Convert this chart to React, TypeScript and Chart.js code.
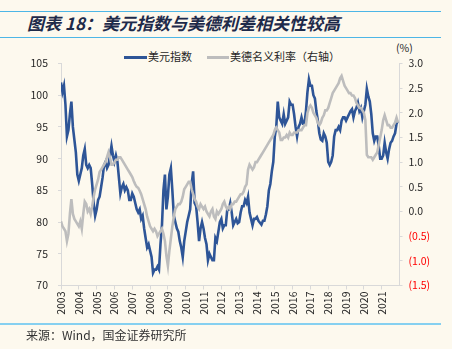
import React, { useEffect, useRef } from "react";
import { Chart, registerables } from "chart.js";

Chart.register(...registerables);

const startYear = 2003;
const yearTicks = [2003, 2004, 2005, 2006, 2007, 2008, 2009, 2010, 2011, 2012, 2013, 2014, 2015, 2016, 2017, 2018, 2019, 2020, 2021];

// 美元指数 (monthly, Jan 2003 - Dec 2021)
const dxyMonthly = [
  102.0, 100.5, 101.5, 98.5, 93.5, 94.5, 97.0, 99.0, 95.0, 93.0, 91.0, 87.5,
  86.5, 87.5, 88.5, 90.5, 91.5, 89.0, 88.5, 89.0, 88.5, 86.0, 83.0, 81.0,
  82.0, 83.5, 84.0, 85.5, 87.0, 89.0, 89.5, 88.5, 89.0, 90.5, 92.0, 90.5,
  89.5, 90.5, 89.5, 87.0, 84.5, 85.5, 86.0, 85.0, 85.5, 85.0, 83.5, 83.5,
  84.5, 84.0, 83.0, 82.0, 81.5, 82.0, 80.5, 81.0, 79.0, 77.5, 76.0, 76.5,
  75.5, 74.5, 72.0, 72.5, 72.5, 73.0, 72.5, 76.5, 79.5, 85.0, 87.5, 82.0,
  84.0, 87.5, 88.5, 85.0, 81.0, 80.0, 79.0, 78.5, 77.0, 76.0, 74.5, 77.0,
  78.5, 80.0, 81.0, 82.0, 86.0, 88.0, 83.0, 82.5, 80.0, 77.0, 79.0, 80.0,
  79.0, 77.5, 76.5, 74.0, 75.0, 74.5, 74.0, 74.0, 77.5, 77.0, 78.5, 80.0,
  80.5, 79.0, 79.5, 79.5, 82.0, 82.0, 83.0, 81.5, 79.5, 80.0, 80.5, 79.8,
  80.0, 81.5, 82.5, 82.5, 83.5, 83.0, 84.0, 81.5, 80.5, 79.5, 80.5, 80.5,
  80.8, 80.2, 79.9, 79.6, 80.2, 80.2, 81.2, 82.5, 85.0, 86.0, 88.0, 89.5,
  93.5, 95.0, 99.0, 96.5, 96.0, 95.5, 97.0, 95.5, 96.0, 96.5, 99.0, 98.5,
  98.5, 97.0, 95.0, 93.5, 95.0, 95.5, 96.5, 95.5, 95.5, 97.5, 100.5, 102.5,
  101.5, 101.5, 100.0, 99.5, 97.5, 96.0, 94.0, 93.0, 92.8, 94.0, 93.5, 92.5,
  89.5, 89.0, 89.5, 90.5, 93.5, 94.5, 94.5, 95.0, 94.5, 96.0, 96.5, 96.5,
  96.0, 96.5, 97.0, 97.5, 97.8, 96.5, 97.5, 98.0, 98.8, 97.5, 98.0, 96.5,
  97.5, 98.5, 101.0, 99.8, 99.0, 97.0, 94.0, 92.8, 93.5, 93.5, 92.0, 90.0,
  90.0, 90.5, 92.5, 91.0, 90.0, 91.5, 92.5, 92.8, 93.5, 94.0, 95.5, 96.0,
];

// 美德名义利率 (右轴, %, monthly, Jan 2003 - Dec 2021)
const spreadMonthly = [
  -0.2, -0.3, -0.35, -0.4, -0.6, -0.45, -0.05, 0.25, -0.05, -0.15, -0.2, -0.25,
  -0.3, -0.2, -0.35, -0.05, 0.2, 0.15, 0.0, 0.05, -0.05, 0.1, 0.3, 0.45,
  0.55, 0.65, 0.8, 0.85, 0.9, 0.95, 1.0, 1.1, 1.2, 1.1, 0.95, 0.95,
  1.0, 1.05, 1.05, 1.1, 1.1, 1.05, 1.0, 0.95, 0.9, 0.85, 0.8, 0.75,
  0.7, 0.62, 0.55, 0.5, 0.48, 0.42, 0.35, 0.25, 0.15, 0.05, -0.1, -0.2,
  -0.3, -0.35, -0.4, -0.35, -0.4, -0.5, -0.45, -0.4, -0.35, -0.45, -0.6, -0.9,
  -1.1, -0.8, -0.55, -0.3, -0.1, 0.05, 0.1, 0.15, 0.15, 0.2, 0.3, 0.45,
  0.5, 0.55, 0.6, 0.6, 0.45, 0.35, 0.25, 0.2, 0.1, 0.05, 0.15, 0.1,
  0.05, 0.1, 0.0, -0.05, -0.1, 0.0, 0.05, -0.1, -0.15, 0.0, -0.05, 0.0,
  0.05, 0.15, 0.2, 0.1, 0.05, 0.1, 0.05, 0.15, 0.15, 0.2, 0.2, 0.25,
  0.3, 0.35, 0.35, 0.4, 0.5, 0.55, 0.85, 0.95, 0.9, 0.85, 0.9, 1.0,
  1.0, 1.05, 1.1, 1.15, 1.2, 1.25, 1.3, 1.35, 1.4, 1.45, 1.5, 1.55,
  1.65, 1.7, 1.65, 1.6, 1.45, 1.45, 1.5, 1.5, 1.55, 1.5, 1.6, 1.55,
  1.55, 1.6, 1.6, 1.6, 1.65, 1.65, 1.65, 1.7, 1.75, 1.75, 2.0, 2.1,
  2.15, 2.1, 2.0, 1.95, 1.9, 1.8, 1.75, 1.8, 1.9, 1.95, 2.05, 2.05,
  2.1, 2.2, 2.3, 2.4, 2.45, 2.5, 2.55, 2.6, 2.7, 2.75, 2.65, 2.55,
  2.5, 2.45, 2.4, 2.4, 2.35, 2.35, 2.3, 2.2, 2.15, 2.1, 2.1, 2.05,
  2.0, 1.85, 1.15, 1.1, 1.1, 1.1, 1.05, 1.1, 1.15, 1.2, 1.35, 1.5,
  1.65, 1.85, 1.95, 1.85, 1.75, 1.75, 1.7, 1.7, 1.75, 1.8, 1.9, 1.8,
];

const seriesNames = ["美元指数", "美德名义利率（右轴）"];
const titleText = "图表 18：美元指数与美德利差相关性较高";
const sourceText = "来源：Wind，国金证券研究所";

const BG = "#FDF9EE";
const BLUE = "#2E5597";
const GRAY = "#BDBDBD";
const AXIS = "#D9D9D9";
const FONT = "'Noto Sans CJK SC', 'Noto Sans', sans-serif";

export default function App() {
  const ref = useRef<HTMLCanvasElement | null>(null);

  useEffect(() => {
    if (!ref.current) return;
    const toPts = (arr: number[]) => arr.map((v, i) => ({ x: startYear + i / 12, y: v }));
    const tickFont = { family: FONT, size: 10.5 };
    const chart = new Chart(ref.current, {
      type: "line",
      data: {
        datasets: [
          {
            label: seriesNames[1],
            data: toPts(spreadMonthly),
            yAxisID: "y1",
            borderColor: GRAY,
            borderWidth: 2.6,
            pointRadius: 0,
            tension: 0,
            order: 0,
          },
          {
            label: seriesNames[0],
            data: toPts(dxyMonthly),
            yAxisID: "y",
            borderColor: BLUE,
            borderWidth: 2.6,
            pointRadius: 0,
            tension: 0,
            order: 1,
          },
        ],
      },
      options: {
        animation: false,
        responsive: false,
        maintainAspectRatio: false,
        layout: { padding: { top: 63.5, left: 0, right: 0, bottom: 0 } },
        plugins: { legend: { display: false }, tooltip: { enabled: false } },
        scales: {
          x: {
            type: "linear",
            min: 2003,
            max: 2022,
            afterBuildTicks: (s: any) => {
              s.ticks = yearTicks.map((v) => ({ value: v }));
            },
            afterFit: (s: any) => {
              s.height = 349 - 285.5;
            },
            border: { color: AXIS, width: 1 },
            grid: { drawOnChartArea: false, drawTicks: true, tickLength: 4, color: AXIS },
            ticks: {
              autoSkip: false,
              minRotation: 90,
              maxRotation: 90,
              padding: 2,
              color: "#262626",
              font: tickFont,
              callback: (v: any) => String(v),
            },
          },
          y: {
            position: "left",
            min: 70,
            max: 105,
            afterFit: (s: any) => {
              s.width = 61;
            },
            border: { color: AXIS, width: 1 },
            grid: { drawOnChartArea: false, drawTicks: true, tickLength: 3, color: AXIS },
            ticks: { stepSize: 5, padding: 10, color: "#262626", font: tickFont },
          },
          y1: {
            position: "right",
            min: -1.5,
            max: 3,
            afterFit: (s: any) => {
              s.width = 452 - 399.5;
            },
            border: { color: AXIS, width: 1 },
            grid: { drawOnChartArea: false, drawTicks: true, tickLength: 3, color: AXIS },
            ticks: {
              stepSize: 0.5,
              padding: 6,
              font: tickFont,
              color: (ctx: any) => (ctx.tick && ctx.tick.value < 0 ? "#FF0000" : "#262626"),
              callback: (v: any) => (v < 0 ? `(${Math.abs(v).toFixed(1)})` : Number(v).toFixed(1)),
            },
          },
        },
      },
    } as any);
    return () => chart.destroy();
  }, []);

  const abs = (o: React.CSSProperties): React.CSSProperties => ({ position: "absolute", ...o });

  return (
    <div style={abs({ left: 0, top: 0, width: 452, height: 349, background: BG, overflow: "hidden", fontFamily: FONT })}>
      <div style={abs({ left: 0, top: 10.5, width: 441, height: 1, background: "#4DB6E6" })} />
      <div
        style={abs({
          left: 27,
          top: 13,
          fontSize: 17,
          lineHeight: "20px",
          fontWeight: "bold",
          fontStyle: "italic",
          color: "#1E2A4A",
          whiteSpace: "nowrap",
        })}
      >
        {titleText}
      </div>
      <div style={abs({ left: 0, top: 36.5, width: 441, height: 1, background: "#4DB6E6" })} />

      <div style={abs({ left: 124, top: 56, width: 23, height: 2.5, background: BLUE })} />
      <div style={abs({ left: 148, top: 49, fontSize: 11, lineHeight: "14px", color: "#262626", whiteSpace: "nowrap" })}>
        {seriesNames[0]}
      </div>
      <div style={abs({ left: 207, top: 56, width: 22, height: 2.5, background: GRAY })} />
      <div style={abs({ left: 230, top: 49, fontSize: 11, lineHeight: "14px", color: "#262626", whiteSpace: "nowrap" })}>
        {seriesNames[1]}
      </div>
      <div style={abs({ left: 396, top: 41, fontSize: 10.5, lineHeight: "14px", color: "#262626" })}>(%)</div>

      <canvas ref={ref} width={452} height={349} style={abs({ left: 0, top: 0, width: 452, height: 349 })} />

      <div style={abs({ left: 0, top: 323, width: 441, height: 2, background: "#86D0F0" })} />
      <div style={abs({ left: 26, top: 327, fontSize: 12, lineHeight: "16px", color: "#333333", whiteSpace: "nowrap" })}>
        {sourceText}
      </div>
    </div>
  );
}
